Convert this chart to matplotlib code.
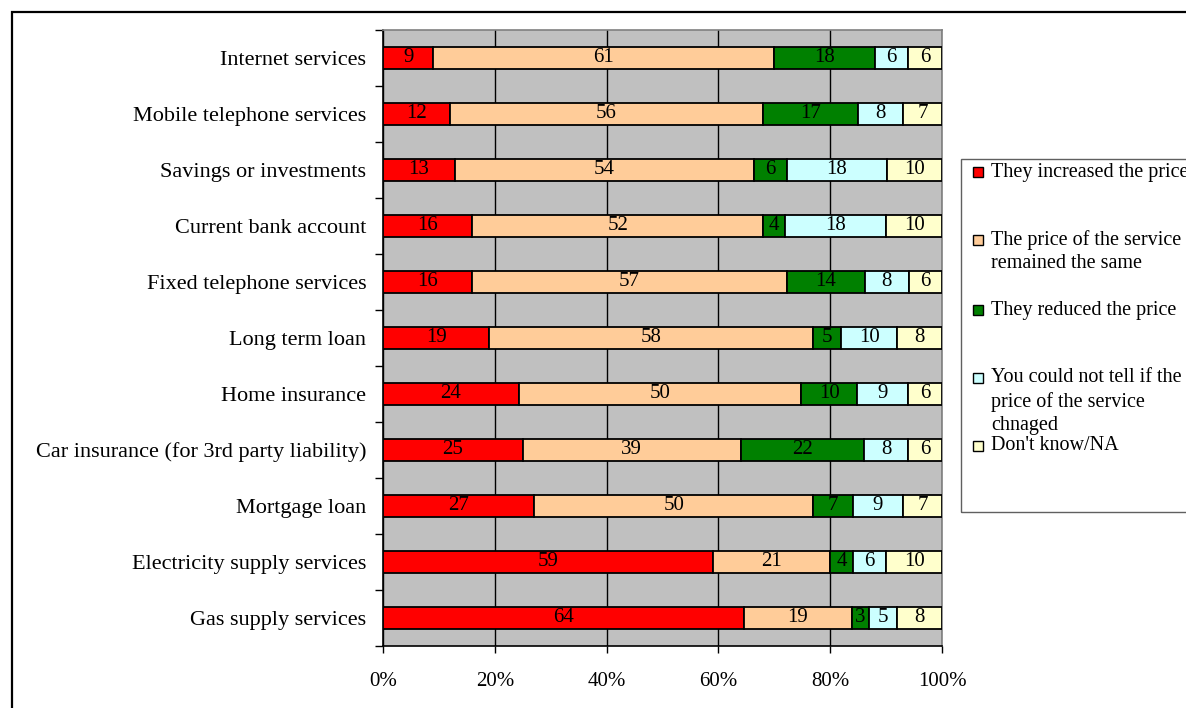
import numpy as np
import matplotlib
matplotlib.use("Agg")
import matplotlib.pyplot as plt
from matplotlib.patches import Rectangle

# ── Data ──────────────────────────────────────────────────
categories = [
    "Internet services",
    "Mobile telephone services",
    "Savings or investments",
    "Current bank account",
    "Fixed telephone services",
    "Long term loan",
    "Home insurance",
    "Car insurance (for 3rd party liability)",
    "Mortgage loan",
    "Electricity supply services",
    "Gas supply services",
]
increased = [9, 12, 13, 16, 16, 19, 24, 25, 27, 59, 64]
same      = [61, 56, 54, 52, 57, 58, 50, 39, 50, 21, 19]
reduced   = [18, 17, 6, 4, 14, 5, 10, 22, 7, 4, 3]
cant_tell = [6, 8, 18, 18, 8, 10, 9, 8, 9, 6, 5]
dont_know = [6, 7, 10, 10, 6, 8, 6, 6, 7, 10, 8]

series_labels = [
    "They increased the price",
    "The price of the service\nremained the same",
    "They reduced the price",
    "You could not tell if the\nprice of the service\nchnaged",
    "Don't know/NA",
]
xtick_labels = ["0%", "20%", "40%", "60%", "80%", "100%"]

# ── Style ─────────────────────────────────────────────────
COLORS = ["#FF0000", "#FFCC99", "#008000", "#CCFFFF", "#FFFFCC"]
GRAY   = "#C0C0C0"
plt.rcParams["font.family"] = ["Liberation Serif", "DejaVu Serif"]

W, H = 1186, 708
fig = plt.figure(figsize=(W / 100, H / 100), dpi=100, facecolor="white")

# outer chart frame (left + top visible, rest runs off the image)
fig.patches.append(Rectangle((12 / W, -0.5), 2.0, 1.5 - 12 / H,
                             transform=fig.transFigure, fill=False,
                             edgecolor="black", lw=1.6))

ax = fig.add_axes([383 / W, 1 - 646 / H, (942 - 383) / W, (646 - 30) / H])
ax.set_facecolor(GRAY)

data = np.array([increased, same, reduced, cant_tell, dont_know], dtype=float)
pct = data / data.sum(axis=0) * 100
y = np.arange(len(categories))

left = np.zeros(len(categories))
for vals, raw, color in zip(pct, data, COLORS):
    bars = ax.barh(y, vals, left=left, height=0.41, color=color,
                   edgecolor="black", lw=1.3, zorder=3)
    ax.bar_label(bars, labels=[f"{int(v)}" for v in raw], label_type="center",
                 fontsize=15, color="black")
    left += vals

ax.set_xlim(0, 100)
ax.set_ylim(len(categories) - 0.5, -0.5)

ax.set_xticks(np.arange(0, 101, 20))
ax.set_xticklabels(xtick_labels, fontsize=15)
ax.xaxis.grid(True, color="black", lw=1.0, zorder=1)
ax.set_axisbelow(True)

ax.set_yticks(y)
ax.set_yticklabels(categories, fontsize=16)
ax.set_yticks(np.arange(-0.5, len(categories)), minor=True)
ax.tick_params(axis="y", which="major", length=0, pad=12)
ax.tick_params(axis="y", which="minor", length=6, width=1, direction="out")
ax.tick_params(axis="x", which="major", length=5, width=1, direction="out", pad=14)

ax.spines["left"].set_color("black")
ax.spines["bottom"].set_color("black")
ax.spines["top"].set_color("#808080")
ax.spines["right"].set_color("#808080")
for s in ax.spines.values():
    s.set_linewidth(1.2)

# ── Legend box (Excel style, equal slot per entry) ────────
fig.patches.append(Rectangle((961 / W, 1 - 512 / H), 1.0, (512 - 159) / H,
                             transform=fig.transFigure, fill=False,
                             edgecolor="#606060", lw=1.0))
entry_y = [172, 240, 310, 378, 446]
line_h = 24
for label, color, ey in zip(series_labels, COLORS, entry_y):
    fig.patches.append(Rectangle((973 / W, 1 - (ey + 5) / H), 10 / W, 10 / H,
                                 transform=fig.transFigure, facecolor=color,
                                 edgecolor="black", lw=1.0))
    for k, line in enumerate(label.split("\n")):
        fig.text(991 / W, 1 - (ey + k * line_h) / H, line, fontsize=14.5,
                 ha="left", va="center")

fig.savefig("out.png", dpi=100, facecolor="white")
